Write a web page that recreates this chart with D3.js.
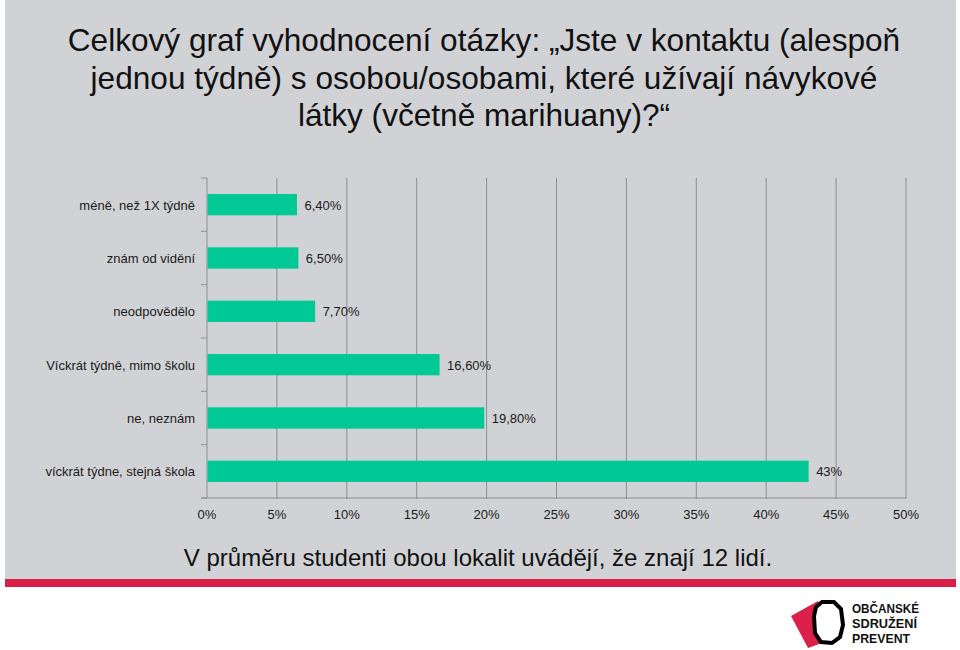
<!DOCTYPE html>
<html>
<head>
<meta charset="utf-8">
<script src="https://cdn.jsdelivr.net/npm/d3@7"></script>
<style>
  html, body { margin: 0; padding: 0; background: #ffffff; }
  svg { display: block; font-family: "Liberation Sans", Arial, Helvetica, sans-serif; }
</style>
</head>
<body>
<svg id="chart" width="960" height="650"></svg>
<script>
// ---- data ----
const titleLines = [
  "Celkový graf vyhodnocení otázky: „Jste v kontaktu (alespoň",
  "jednou týdně) s osobou/osobami, které užívají návykové",
  "látky (včetně marihuany)?“"
];
const categories = [
  "méně, než 1X týdně",
  "znám od vidění",
  "neodpovědělo",
  "Víckrát týdně, mimo školu",
  "ne, neznám",
  "víckrát týdne, stejná škola"
];
const values = [6.4, 6.5, 7.7, 16.6, 19.8, 43];
const valueLabels = ["6,40%", "6,50%", "7,70%", "16,60%", "19,80%", "43%"];
const tickValues = [0, 5, 10, 15, 20, 25, 30, 35, 40, 45, 50];
const tickLabels = ["0%", "5%", "10%", "15%", "20%", "25%", "30%", "35%", "40%", "45%", "50%"];
const noteText = "V průměru studenti obou lokalit uvádějí, že znají 12 lidí.";
const logoLines = ["OBČANSKÉ", "SDRUŽENÍ", "PREVENT"];

// ---- layout ----
const svg = d3.select("#chart");
const plot = { left: 207, right: 906, top: 178, bottom: 498 };
const gridColor = "#8d8e92";

// background panel + red stripe
svg.append("rect").attr("x", 5).attr("y", 0).attr("width", 951).attr("height", 579).attr("fill", "#d1d2d6");
svg.append("rect").attr("x", 5).attr("y", 579).attr("width", 951).attr("height", 8).attr("fill", "#d91e48");

// title
svg.append("g").selectAll("text").data(titleLines).join("text")
  .attr("x", 484).attr("y", (d, i) => 51 + i * 37.5)
  .attr("text-anchor", "middle")
  .attr("font-size", 31.6).attr("fill", "#111")
  .text(d => d);

// scales
const x = d3.scaleLinear().domain([0, 50]).range([plot.left, plot.right]);
const y = d3.scaleBand().domain(categories).range([plot.top, plot.bottom])
  .paddingInner(0.6).paddingOuter(0.3);
const yEdge = d3.scaleBand().domain(categories).range([plot.top, plot.bottom]).padding(0);

// gridlines
svg.append("g").selectAll("line").data(tickValues.slice(1)).join("line")
  .attr("x1", d => x(d)).attr("x2", d => x(d))
  .attr("y1", plot.top).attr("y2", plot.bottom + 1)
  .attr("stroke", gridColor).attr("stroke-width", 1);

// x axis line + labels
svg.append("line").attr("x1", plot.left - 6).attr("x2", x(50)).attr("y1", plot.bottom).attr("y2", plot.bottom)
  .attr("stroke", gridColor).attr("stroke-width", 1);
svg.append("g").selectAll("text").data(tickValues).join("text")
  .attr("x", d => x(d)).attr("y", 519)
  .attr("text-anchor", "middle").attr("font-size", 13).attr("fill", "#1a1a1a")
  .text((d, i) => tickLabels[i]);

// y axis line + separator ticks
svg.append("line").attr("x1", plot.left).attr("x2", plot.left).attr("y1", plot.top).attr("y2", plot.bottom)
  .attr("stroke", gridColor).attr("stroke-width", 1);
const edges = categories.map(c => yEdge(c)).concat([plot.bottom]);
svg.append("g").selectAll("line").data(edges).join("line")
  .attr("x1", plot.left - 6).attr("x2", plot.left)
  .attr("y1", d => d).attr("y2", d => d)
  .attr("stroke", gridColor).attr("stroke-width", 1);

// bars
svg.append("g").selectAll("rect").data(values).join("rect")
  .attr("x", x(0) + 0.5)
  .attr("y", (d, i) => y(categories[i]))
  .attr("width", d => x(d) - x(0))
  .attr("height", y.bandwidth())
  .attr("fill", "#00c995");

// value labels
svg.append("g").selectAll("text").data(values).join("text")
  .attr("x", d => x(d) + 8)
  .attr("y", (d, i) => y(categories[i]) + y.bandwidth() / 2 + 5)
  .attr("font-size", 13).attr("fill", "#1a1a1a")
  .text((d, i) => valueLabels[i]);

// category labels
svg.append("g").selectAll("text").data(categories).join("text")
  .attr("x", 195)
  .attr("y", d => y(d) + y.bandwidth() / 2 + 5)
  .attr("text-anchor", "end")
  .attr("font-size", 13).attr("fill", "#1a1a1a")
  .text(d => d);

// bottom note
svg.append("text").attr("x", 478).attr("y", 566)
  .attr("text-anchor", "middle").attr("font-size", 24).attr("fill", "#111")
  .text(noteText);

// logo
const logo = svg.append("g");
logo.append("polygon")
  .attr("points", "791,616 818,601 836,638 808,648")
  .attr("fill", "#dc1f4b");
logo.append("polygon")
  .attr("points", "822,602 834,602 841,609 843,625 840,637 832,643 821,642 815,633 814,616 816,607")
  .attr("fill", "#ffffff").attr("stroke", "#000").attr("stroke-width", 4).attr("stroke-linejoin", "miter");
logo.append("g").selectAll("text").data(logoLines).join("text")
  .attr("x", 852).attr("y", (d, i) => 613 + i * 15)
  .attr("font-size", 12.5).attr("font-weight", "bold").attr("fill", "#111")
  .attr("textLength", (d, i) => [67, 65, 58][i]).attr("lengthAdjust", "spacingAndGlyphs")
  .text(d => d);
</script>
</body>
</html>
